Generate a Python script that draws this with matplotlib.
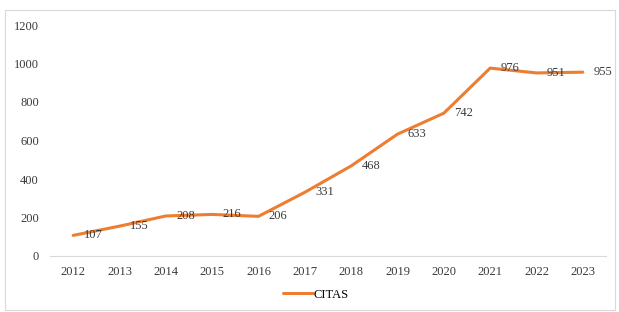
import matplotlib.pyplot as plt
from matplotlib.patches import Rectangle

years = ['2012', '2013', '2014', '2015', '2016', '2017',
         '2018', '2019', '2020', '2021', '2022', '2023']
citas = [107, 155, 208, 216, 206, 331, 468, 633, 742, 976, 951, 955]
y_ticks = [0, 200, 400, 600, 800, 1000, 1200]

plt.rcParams['font.family'] = ['Liberation Serif', 'DejaVu Serif']

fig = plt.figure(figsize=(6.19, 3.12), dpi=100)
ax = fig.add_axes([50 / 619, 56 / 312, 556 / 619, 231 / 312])

x = list(range(len(years)))
ax.plot(x, citas, color='#ED7D31', lw=2.2, solid_capstyle='round',
        solid_joinstyle='round', label='CITAS')

for xi, v in zip(x, citas):
    ax.annotate(str(v), (xi, v), xytext=(7.5, 0), textcoords='offset points',
                ha='left', va='center', fontsize=9, color='#3a3a3a')

ax.set_xlim(-0.5, len(years) - 0.5)
ax.set_ylim(0, 1200)
ax.set_xticks(x)
ax.set_xticklabels(years)
ax.set_yticks(y_ticks)
ax.tick_params(axis='both', length=0, labelsize=9, colors='#3a3a3a')
ax.tick_params(axis='y', pad=8)
ax.tick_params(axis='x', pad=7)

for s in ['top', 'right', 'left']:
    ax.spines[s].set_visible(False)
ax.spines['bottom'].set_color('#D9D9D9')
ax.spines['bottom'].set_linewidth(0.8)

fig.legend(loc='lower center', bbox_to_anchor=(0.51, 0.0), frameon=False,
           fontsize=9, handlelength=2.4, handletextpad=0.1)

# light frame around the chart
fig.patches.append(Rectangle((5 / 619, 2 / 312), 610 / 619, 300 / 312,
                             transform=fig.transFigure, fill=False,
                             edgecolor='#D9D9D9', lw=0.8))

fig.savefig('out.png', dpi=100)
